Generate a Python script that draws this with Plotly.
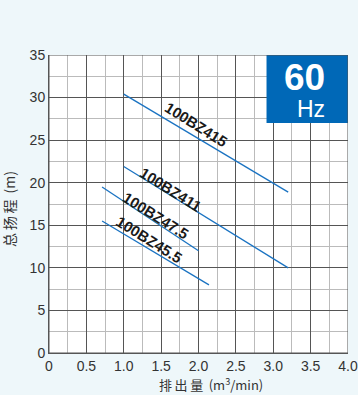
import plotly.graph_objects as go

# Data
models = ["100BZ415", "100BZ411", "100BZ47.5", "100BZ45.5"]
flow_start = [1.0, 1.0, 0.71, 0.71]
flow_end = [3.2, 3.2, 2.0, 2.14]
head_start = [30.4, 21.9, 19.5, 15.5]
head_end = [18.9, 10.0, 12.0, 8.0]
label_x = [1.97, 1.63, 1.43, 1.34]
label_y = [26.8, 19.2, 16.2, 13.3]
x_ticks = [0, 0.5, 1.0, 1.5, 2.0, 2.5, 3.0, 3.5, 4.0]
x_tick_text = ["0", "0.5", "1.0", "1.5", "2.0", "2.5", "3.0", "3.5", "4.0"]
y_ticks = [0, 5, 10, 15, 20, 25, 30, 35]

W, H = 358, 395
L, R, T, B = 49, 10, 55, 42
PW, PH = W - L - R, H - T - B

fig = go.Figure()
for i, m in enumerate(models):
    fig.add_trace(go.Scatter(
        x=[flow_start[i], flow_end[i]], y=[head_start[i], head_end[i]],
        mode="lines", line=dict(color="#1a73c2", width=1.3),
        showlegend=False, hoverinfo="skip"))
    fig.add_annotation(x=label_x[i], y=label_y[i], xref="x", yref="y",
                       text="<b>" + m + "</b>", showarrow=False, textangle=32,
                       font=dict(family="Liberation Sans, Arial", size=15, color="#1a1a1a"))

# 60 Hz badge
fig.add_shape(type="rect", xref="x", yref="y", x0=2.91, x1=4.0, y0=27.0, y1=35,
              fillcolor="#0068b7", line=dict(width=0), layer="above")
fig.add_annotation(x=3.42, y=32.3, xref="x", yref="y", text="<b>60</b>", showarrow=False,
                   font=dict(family="Liberation Sans, Arial", size=37, color="white"))
fig.add_annotation(x=3.5, y=28.6, xref="x", yref="y", text="Hz", showarrow=False,
                   font=dict(family="Liberation Sans, Arial", size=23, color="white"))

# axis titles as paper annotations
ts = "\u2009"
fig.add_annotation(xref="paper", yref="paper", x=(211 - L) / PW, y=-(384 - (H - B)) / PH,
                   xanchor="center", yanchor="middle",
                   text="排" + ts + "出" + ts + "量" + ts + " (m<sup>3</sup>/min)", showarrow=False,
                   font=dict(size=13, family="Noto Sans CJK SC, Liberation Sans", color="#333333"))
fig.add_annotation(xref="paper", yref="paper", x=-(L - 9) / PW, y=((H - B) - 209) / PH,
                   xanchor="center", yanchor="middle",
                   text="总" + ts + "扬" + ts + "程" + ts + " (m)", showarrow=False, textangle=-90,
                   font=dict(size=14, family="Noto Sans CJK SC, Liberation Sans", color="#333333"))

fig.update_layout(
    width=W, height=H,
    margin=dict(l=L, r=R, t=T, b=B, autoexpand=False),
    paper_bgcolor="#eef7fa", plot_bgcolor="white",
    font=dict(family="Liberation Sans, Arial", color="#333333"),
    xaxis=dict(range=[0, 4.0], tickvals=x_ticks, ticktext=x_tick_text, automargin=False,
               showgrid=True, gridcolor="#555555", gridwidth=1,
               minor=dict(dtick=0.25, tick0=0, showgrid=True, gridcolor="#bbbbbb", gridwidth=1),
               zeroline=False, showline=True, linecolor="#555555", linewidth=1,
               tickfont=dict(size=14, color="#333333"), ticks=""),
    yaxis=dict(range=[0, 35], tickvals=y_ticks, automargin=False,
               showgrid=True, gridcolor="#555555", gridwidth=1,
               minor=dict(dtick=2.5, tick0=0, showgrid=True, gridcolor="#bbbbbb", gridwidth=1),
               zeroline=False, showline=True, linecolor="#555555", linewidth=1,
               tickfont=dict(size=14, color="#333333"), ticks=""),
)
fig.add_shape(type="rect", xref="x", yref="y", x0=0, x1=4, y0=0, y1=35,
              line=dict(color="#555555", width=1), layer="above")

fig.write_html("out.html", config={"displayModeBar": False},
               post_script="document.body.style.margin='0';document.body.style.background='#eef7fa';")
